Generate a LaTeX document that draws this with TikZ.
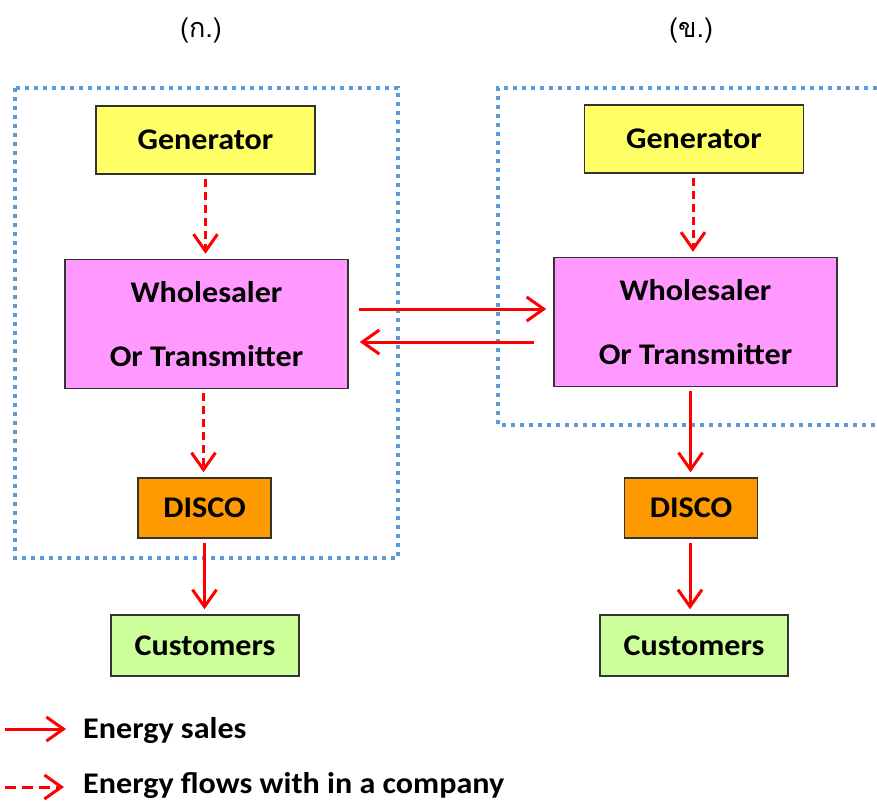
\documentclass[tikz,border=0pt]{standalone}
\usepackage{fontspec}
\setmainfont{Carlito}[FakeStretch=1.07]
\newfontfamily\thaifont[Script=Thai]{Loma}
\usetikzlibrary{arrows.meta}

\definecolor{boxline}{HTML}{333333}
\definecolor{genfill}{HTML}{FFFF66}
\definecolor{wsfill}{HTML}{FF99FF}
\definecolor{discofill}{HTML}{FF9900}
\definecolor{custfill}{HTML}{CCFF99}
\definecolor{dotblue}{HTML}{5B9BD5}
\definecolor{flowred}{HTML}{FF0000}

\tikzset{
  unit/.style={draw=boxline, line width=1.5pt, inner sep=0pt,
    font=\fontsize{30}{36}\selectfont\bfseries, text=black},
  genbox/.style={unit, fill=genfill, minimum width=219pt, minimum height=68pt},
  wsbox/.style={unit, fill=wsfill, minimum width=283pt, minimum height=129pt,
    align=center, font=\fontsize{30}{64}\selectfont\bfseries},
  discobox/.style={unit, fill=discofill, minimum width=133pt, minimum height=60pt},
  custbox/.style={unit, fill=custfill, minimum width=188pt, minimum height=61pt},
  sale/.style={draw=flowred, line width=3pt,
    -{Straight Barb[length=17pt, width=24pt]}, shorten >=5pt, shorten <=4pt},
  internal/.style={sale, dash pattern=on 8pt off 5pt},
  company/.style={draw=dotblue, line width=4pt, dash pattern=on 4pt off 5pt},
  caption/.style={font=\thaifont\fontsize{27}{32}\selectfont},
  legendtext/.style={font=\fontsize{30}{36}\selectfont\bfseries, anchor=base west, inner sep=0pt}
}

\begin{document}
\begin{tikzpicture}[x=1pt, y=-1pt]
  \useasboundingbox (0,0) rectangle (877,801);

  % company boundaries
  \draw[company] (15,88) rectangle (398,558);
  \draw[company] (877,88) -- (498,88) -- (498,425) -- (877,425);

  % captions
  \node[caption] (capA) at (201,31) {(ก.)};
  \node[caption] (capB) at (691,31) {(ข.)};

  % left structure
  \node[genbox]   (lg) at (205.5,140)   {Generator};
  \node[wsbox]    (lw) at (206.5,324)   {Wholesaler\\Or Transmitter};
  \node[discobox] (ld) at (204.5,508)   {DISCO};
  \node[custbox]  (lc) at (205,645.5)   {Customers};

  % right structure
  \node[genbox]   (rg) at (694,139)     {Generator};
  \node[wsbox]    (rw) at (695.5,322)   {Wholesaler\\Or Transmitter};
  \node[discobox] (rd) at (691,508)     {DISCO};
  \node[custbox]  (rc) at (694,645.5)   {Customers};

  % flows on the left
  \draw[internal] (lg.south) -- (lg.south |- lw.north);
  \draw[internal] ([xshift=-3pt]lw.south) -- ([xshift=-3pt]lw.south |- ld.north);
  \draw[sale] (ld.south) -- (ld.south |- lc.north);

  % flows on the right
  \draw[internal] ([xshift=-1pt]rg.south) -- ([xshift=-1pt]rg.south |- rw.north);
  \draw[sale] ([xshift=-5pt]rw.south) -- ([xshift=-5pt]rw.south |- rd.north);
  \draw[sale] ([xshift=-1pt]rd.south) -- ([xshift=-1pt]rd.south |- rc.north);

  % trade between the two wholesalers
  \draw[sale, shorten <=10pt, shorten >=7pt]
    ([yshift=15pt]lw.east) -- ([yshift=15pt]lw.east -| rw.west);
  \draw[sale, shorten <=19pt, shorten >=11pt]
    ([yshift=-18pt]rw.west |- lw.east) -- ([yshift=-18pt]lw.east);

  % legend
  \coordinate (saleA) at (5,729);
  \coordinate (saleB) at (66,729);
  \coordinate (flowA) at (5,787);
  \coordinate (flowB) at (64,787);
  \draw[sale, shorten <=0pt, shorten >=0pt] (saleA) -- (saleB);
  \draw[internal, dash pattern=on 11pt off 6pt, shorten <=0pt, shorten >=0pt] (flowA) -- (flowB);
  \node[legendtext] (saleText) at (83,738) {Energy sales};
  \node[legendtext] (flowText) at (83,793) {Energy flows with in a company};
\end{tikzpicture}
\end{document}
